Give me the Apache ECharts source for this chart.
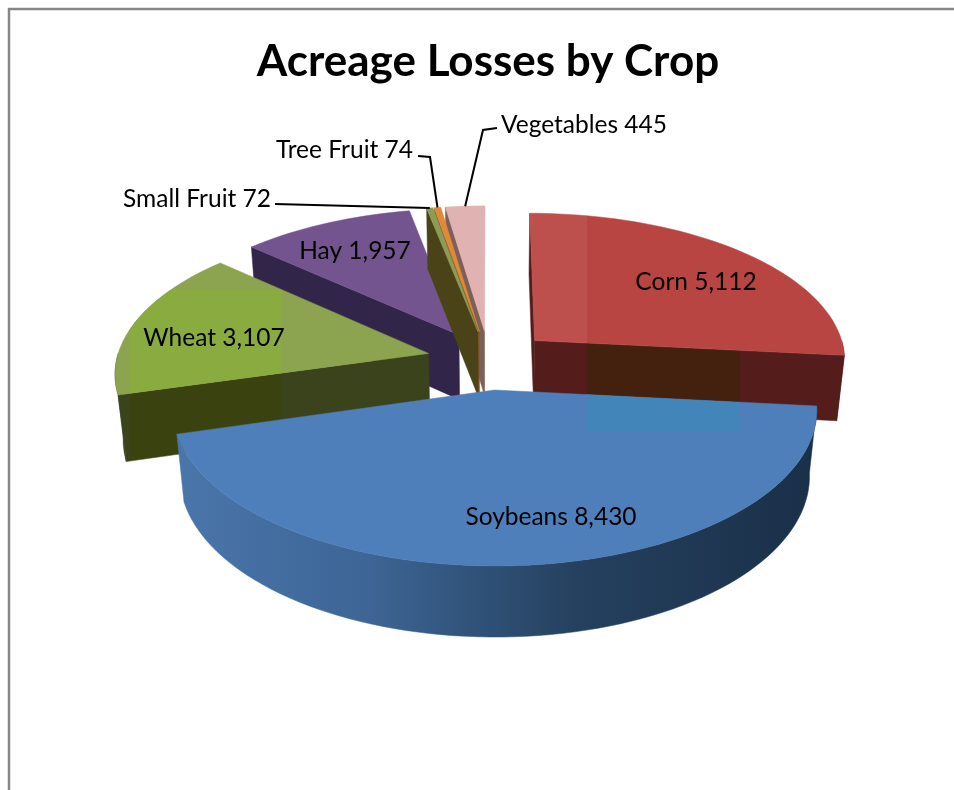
<!DOCTYPE html>
<html><head><meta charset="utf-8">
<style>html,body{margin:0;padding:0;background:#fff}#c{width:954px;height:790px}</style>
<script src="https://cdn.jsdelivr.net/npm/echarts@6/dist/echarts.min.js"></script>
</head><body><div id="c"></div>
<script>
// ---- data ----
const crops  = ['Corn','Soybeans','Wheat','Hay','Small Fruit','Tree Fruit','Vegetables'];
const acres  = [5112, 8430, 3107, 1957, 72, 74, 445];
const chartTitle = 'Acreage Losses by Crop';

// ---- style ----
// x-banded fills in page coordinates, mimicking the tile tints of the source image
function band(x0, x1, cOut, cIn){
  const a = x0/954, b = x1/954;
  return {type:'linear', x:0, y:0, x2:954, y2:0, global:true, colorStops:[
    {offset:0,color:cOut},{offset:a,color:cOut},{offset:a,color:cIn},{offset:b,color:cIn},{offset:b,color:cOut},{offset:1,color:cOut}]};
}
const topColors  = [band(0,587,'#b94543','#bd4f4d'),'#4f7fba','#8ca34f','#74548f','#8c9c55','#e08a38','#e0b2b2'];
const wallColors = [band(587,740,'#541d1c','#44200f'),'#4f7fba',band(130,282,'#3a431c','#3a420f'),'#32254a','#4a4318','#8a5a2a','#7c6058'];
const soyRim = {type:'linear',x:0,y:0,x2:1,y2:0,colorStops:[{offset:0,color:'#4a76ab'},{offset:0.3,color:'#3d6595'},{offset:0.62,color:'#25415f'},{offset:1,color:'#1a2f48'}]};
const paintOrder = [5,7,6,1,4,3,2];   // far to near, per crop
const labelFont  = '24.5px Lato, Carlito, sans-serif';
// tile tints on top faces: [xMin, xMax, yMin, yMax, colour], by crop
const faceTints = {
  'Soybeans':[587,740,0,432,'#4285b8'],
  'Wheat':[130,282,290,430,'#8aab40']
};

// ---- 3D projection of the exploded pie ----
const view = {cx:489, cy:360, R:312, K:147, persp:0.12, depth:67, shrink:0.022, explode:0.2};
function project(u, v, z){
  const w = 1 - view.persp*v + view.shrink*z;
  return [view.cx + view.R*u/w, view.cy + (view.K*v + view.depth*z)/w];
}
const total = acres.reduce((a,b)=>a+b,0);
const rad = d => d*Math.PI/180;
const slices = []; { let a = 0; acres.forEach(val=>{ const s=val/total*360; slices.push({a0:a,a1:a+s,mid:a+s/2}); a+=s; }); }

function sliceGeometry(i){
  const s = slices[i];
  const ox = view.explode*Math.sin(rad(s.mid)), oy = -view.explode*Math.cos(rad(s.mid));
  const arc = (from,to,z) => { const pts=[]; const n=Math.max(2,Math.ceil((to-from)/2));
    for(let k=0;k<=n;k++){ const t=rad(from+(to-from)*k/n); pts.push(project(ox+Math.sin(t), oy-Math.cos(t), z)); }
    return pts; };
  return {apexTop:project(ox,oy,0), apexBot:project(ox,oy,1), arc, ox, oy,
          rimTop:arc(s.a0,s.a1,0), rimBot:arc(s.a0,s.a1,1)};
}
function poly(points, fill, z2){
  return {type:'polygon', shape:{points}, style:{fill, stroke:fill, lineWidth:0.5}, z2, silent:true};
}
// clip a polygon to an axis-aligned box (Sutherland-Hodgman)
function clipBox(pts, x0, x1, y0, y1){
  const edge = (list, inside, cross) => {
    const out = [];
    list.forEach((p,k)=>{ const q = list[(k+1)%list.length];
      if(inside(p)) out.push(p);
      if(inside(p)!==inside(q)) out.push(cross(p,q)); });
    return out; };
  const atX = x => (p,q)=>[x, p[1]+(q[1]-p[1])*(x-p[0])/(q[0]-p[0])];
  const atY = y => (p,q)=>[p[0]+(q[0]-p[0])*(y-p[1])/(q[1]-p[1]), y];
  let r = edge(pts, p=>p[0]>=x0, atX(x0));
  r = edge(r, p=>p[0]<=x1, atX(x1));
  r = edge(r, p=>p[1]>=y0, atY(y0));
  return edge(r, p=>p[1]<=y1, atY(y1));
}

// leader lines and label anchors (annotation layout, by crop)
const labelAt = {
  'Corn':[696,282,'center'], 'Soybeans':[551,517,'center'], 'Wheat':[214,338,'center'], 'Hay':[355,251,'center'],
  'Small Fruit':[271,199,'right'], 'Tree Fruit':[413,150,'right'], 'Vegetables':[501,125,'left']
};
const leaderFrom = {
  'Small Fruit':[[275,204]],
  'Tree Fruit':[[418,156],[430,157]],
  'Vegetables':[[497,128],[483,130]]
};

function renderSlice(params, api){
  const i = params.dataIndex, g = sliceGeometry(i), s = slices[i], base = paintOrder[i]*10;
  const kids = [];
  const last = g.rimTop.length-1;
  // radial walls: only those facing the viewer
  if(Math.sin(rad(s.a0)) <= 1e-9)
    kids.push(poly([g.apexTop, g.rimTop[0], g.rimBot[0], g.apexBot], wallColors[i], base));
  if(Math.sin(rad(s.a1)) > 0)
    kids.push(poly([g.apexTop, g.rimTop[last], g.rimBot[last], g.apexBot], wallColors[i], base));
  // outer rim: the near half only
  const from = Math.max(s.a0, 90), to = Math.min(s.a1, 270);
  if(to > from){
    const top = g.arc(from,to,0), bot = g.arc(from,to,1);
    kids.push(poly(top.concat(bot.reverse()), i===1 ? soyRim : wallColors[i], base+1));
  }
  // top face
  const face = [g.apexTop].concat(g.rimTop);
  kids.push(poly(face, topColors[i], base+2));
  const name = crops[i], tint = faceTints[name];
  if(tint){
    const clipped = clipBox(face, tint[0], tint[1], tint[2], tint[3]);
    if(clipped.length>2) kids.push(Object.assign(poly(clipped, tint[4], base+3), {style:{fill:tint[4]}}));
  }
  // label
  const at = labelAt[name];
  kids.push({type:'text', z2:200, silent:true, style:{x:at[0], y:at[1], text:name+' '+acres[i].toLocaleString('en-US'),
    font:labelFont, fill:'#000', align:at[2], verticalAlign:'middle'}});
  // leader
  if(leaderFrom[name]){
    const t = rad(s.mid);
    const end = project(g.ox+Math.sin(t), g.oy-Math.cos(t), 0);
    kids.push({type:'polyline', z2:190, silent:true, shape:{points:leaderFrom[name].concat([end])},
      style:{stroke:'#000', lineWidth:2, fill:null}});
  }
  return {type:'group', children:kids};
}

const chart = echarts.init(document.getElementById('c'), null, {renderer:'canvas'});
chart.setOption({
  animation:false,
  backgroundColor:'#fff',
  title:{text:chartTitle, left:483, top:57, textAlign:'center', textVerticalAlign:'middle',
    textStyle:{fontFamily:'Lato, Carlito, sans-serif', fontWeight:'bold', fontSize:44, color:'#000'}},
  graphic:[{type:'polyline', silent:true, shape:{points:[[9,790],[9,9],[954,9]]}, style:{stroke:'#868686', lineWidth:2.5, fill:null}}],
  series:[{type:'custom', coordinateSystem:'none', renderItem:renderSlice,
    data:crops.map((c,i)=>({name:c, value:acres[i]}))}]
});
</script></body></html>
